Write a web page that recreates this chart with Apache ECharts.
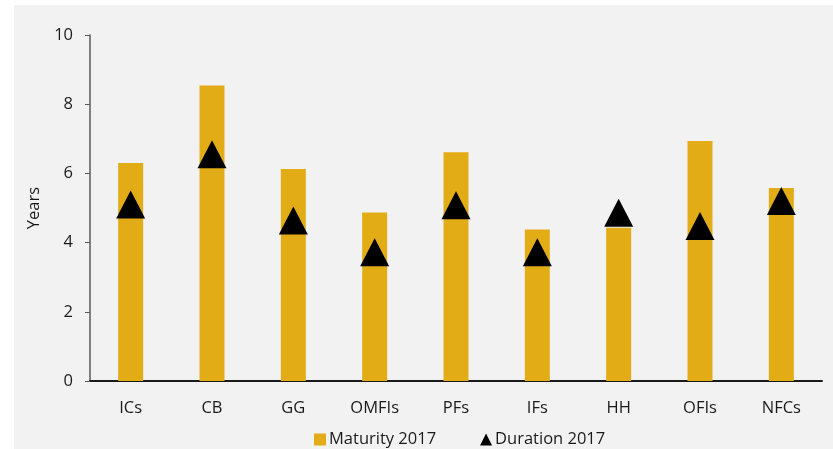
<!DOCTYPE html>
<html>
<head>
<meta charset="utf-8">
<script src="https://cdn.jsdelivr.net/npm/echarts@6/dist/echarts.min.js"></script>
<style>
html,body{margin:0;padding:0;background:#fff;}
#c{width:833px;height:449px;}
</style>
</head>
<body>
<div id="c"></div>
<script>
const categories = ['ICs', 'CB', 'GG', 'OMFIs', 'PFs', 'IFs', 'HH', 'OFIs', 'NFCs'];
const maturity2017 = [6.30, 8.54, 6.13, 4.87, 6.61, 4.38, 4.43, 6.94, 5.58];
const duration2017 = [5.10, 6.55, 4.64, 3.72, 5.08, 3.72, 4.86, 4.48, 5.20];
const yTicks = { min: 0, max: 10, interval: 2 };

const chart = echarts.init(document.getElementById('c'), null, { renderer: 'canvas' });
const font = 'Open Sans, Liberation Sans, sans-serif';
chart.setOption({
  backgroundColor: '#ffffff',
  animation: false,
  graphic: [{
    type: 'rect', z: -10, silent: true,
    shape: { x: 14, y: 5, width: 833 - 14, height: 449 - 5 },
    style: { fill: '#f2f2f2' }
  }],
  grid: { left: 90, right: 11, top: 35, bottom: 68, containLabel: false },
  legend: {
    top: 426, left: 309,
    itemGap: 44, itemWidth: 12, itemHeight: 12,
    textStyle: { fontFamily: font, fontSize: 16.5, color: '#1a1a1a', padding: [0, 0, 0, -2] },
    data: [
      { name: 'Maturity 2017', icon: 'rect' },
      { name: 'Duration 2017', icon: 'triangle' }
    ]
  },
  xAxis: {
    type: 'category', data: categories,
    axisLine: { lineStyle: { color: '#1a1a1a', width: 2 } },
    axisTick: { show: false },
    axisLabel: { fontFamily: font, fontSize: 16.5, color: '#1a1a1a', margin: 19 }
  },
  yAxis: {
    type: 'value', min: yTicks.min, max: yTicks.max, interval: yTicks.interval,
    name: 'Years', nameLocation: 'middle', nameGap: 47,
    nameTextStyle: { fontFamily: font, fontSize: 16.5, color: '#1a1a1a' },
    axisLine: { show: true, lineStyle: { color: '#595959', width: 1.5 } },
    axisTick: { show: true, length: 5, lineStyle: { color: '#595959' } },
    splitLine: { show: false },
    axisLabel: { fontFamily: font, fontSize: 16.5, color: '#1a1a1a', margin: 17 }
  },
  series: [
    {
      name: 'Maturity 2017', type: 'bar', data: maturity2017,
      barWidth: 25, itemStyle: { color: '#e2ac16' }
    },
    {
      name: 'Duration 2017', type: 'scatter', data: duration2017,
      symbol: 'triangle', symbolSize: [29, 28],
      itemStyle: { color: '#000000', opacity: 1 }, z: 5
    }
  ]
});
</script>
</body>
</html>
